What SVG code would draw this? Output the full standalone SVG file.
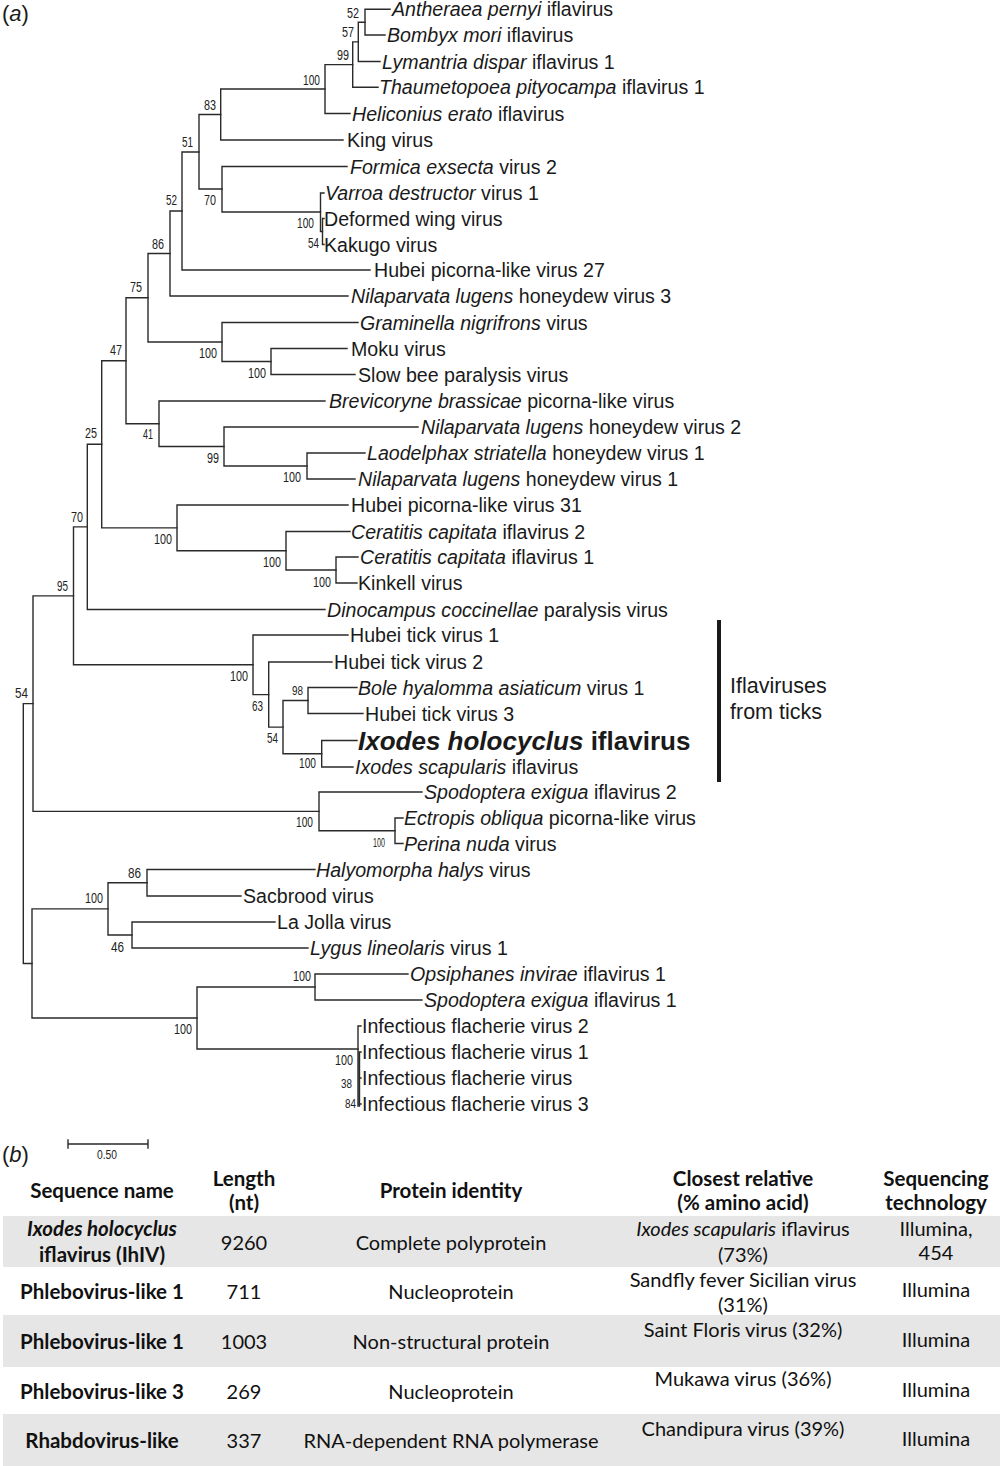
<svg xmlns="http://www.w3.org/2000/svg" width="1000" height="1466" viewBox="0 0 1000 1466">
<style>
.lf{font-family:"Liberation Sans",Arial,sans-serif;font-size:19.6px;fill:#1a1a1a}
.i{font-style:italic}
.bs{font-family:"Liberation Sans",Arial,sans-serif;font-size:14px;fill:#222}
.bss{font-family:"Liberation Sans",Arial,sans-serif;font-size:12px;fill:#222}
.br{fill:none;stroke:#2a2a2a;stroke-width:1.4;stroke-linecap:square}
.tb{font-family:Lato,"Open Sans",sans-serif;font-size:20px;fill:#111;text-anchor:middle}
.th{font-weight:bold;font-size:20.5px}
.band{fill:#e6e6e6}
</style>
<rect width="1000" height="1466" fill="#fff"/>
<text class="lf" x="2" y="21" style="font-size:22px"><tspan>(</tspan><tspan class="i">a</tspan><tspan>)</tspan></text>

<g id="connectors" class="br">
<path d="M365 9.3V35M365 9.3H390M365 35H385"/>
<path d="M358.3 22.2V61.5M358.3 22.2H365M358.3 61.5H380"/>
<path d="M352.7 41.9V87.3M352.7 41.9H358.3M352.7 87.3H378"/>
<path d="M325 64.6V113.5M325 64.6H352.7M325 113.5H350"/>
<path d="M220.7 89V140M220.7 89H325M220.7 140H343"/>
<path d="M322.5 218.5V244.5M322.5 218.5H324M322.5 244.5H324"/>
<path d="M320.5 193V231.5M320.5 193H324M320.5 231.5H322.5"/>
<path d="M222 166.5V212M222 166.5H347M222 212H320.5"/>
<path d="M199 114.5V189M199 114.5H220.7M199 189H222"/>
<path d="M182 152V270M182 152H199M182 270H370"/>
<path d="M170 211V296M170 211H182M170 296H348"/>
<path d="M271 348.5V374.5M271 348.5H347M271 374.5H355"/>
<path d="M222 322.5V361.5M222 322.5H358M222 361.5H271"/>
<path d="M148 253.5V342M148 253.5H170M148 342H222"/>
<path d="M307 453V479M307 453H365M307 479H355"/>
<path d="M224 427V466M224 427H418M224 466H307"/>
<path d="M159 401V446.5M159 401H325M159 446.5H224"/>
<path d="M126 297.8V423.8M126 297.8H148M126 423.8H159"/>
<path d="M336 557V583M336 557H358M336 583H357"/>
<path d="M286 531.5V570M286 531.5H350M286 570H336"/>
<path d="M177 505V550.8M177 505H348M177 550.8H286"/>
<path d="M101.7 360.8V527.9M101.7 360.8H126M101.7 527.9H177"/>
<path d="M87.3 444.3V609.5M87.3 444.3H101.7M87.3 609.5H325"/>
<path d="M321.7 740.5V767M321.7 740.5H357M321.7 767H353"/>
<path d="M308 687.5V713.5M308 687.5H357M308 713.5H363"/>
<path d="M283 700.5V753.8M283 700.5H308M283 753.8H321.7"/>
<path d="M268.7 662V727.1M268.7 662H332M268.7 727.1H283"/>
<path d="M253 635V694.6M253 635H348M253 694.6H268.7"/>
<path d="M73.5 526.9V664.8M73.5 526.9H87.3M73.5 664.8H253"/>
<path d="M395 818V843.5M395 818H403M395 843.5H403"/>
<path d="M319 792V830.8M319 792H422M319 830.8H395"/>
<path d="M33 595.9V811.4M33 595.9H73.5M33 811.4H319"/>
<path d="M147 869.5V896M147 869.5H315M147 896H241"/>
<path d="M132 922V948M132 922H275M132 948H308"/>
<path d="M108 882.8V935M108 882.8H147M108 935H132"/>
<path d="M315 974V1000M315 974H408M315 1000H422"/>
<path d="M358 1026V1106M359.5 1052V1106M358 1026H361M359.5 1052H361M359.5 1078H361M359.5 1104H361"/>
<path d="M197 987V1049M197 987H315M197 1049H358"/>
<path d="M32 908.9V1018M32 908.9H108M32 1018H197"/>
<path d="M23.3 703.6V963.5M23.3 703.6H33M23.3 963.5H32"/>
</g>

<g id="leaves">
<g id="leaf-01"><text class="lf" x="392" y="16.3"><tspan class="i">Antheraea pernyi</tspan> iflavirus</text></g>
<g id="leaf-02"><text class="lf" x="387" y="42"><tspan class="i">Bombyx mori</tspan> iflavirus</text></g>
<g id="leaf-03"><text class="lf" x="382" y="68.5"><tspan class="i">Lymantria dispar</tspan> iflavirus 1</text></g>
<g id="leaf-04"><text class="lf" x="379" y="94.3"><tspan class="i">Thaumetopoea pityocampa</tspan> iflavirus 1</text></g>
<g id="leaf-05"><text class="lf" x="352" y="120.5"><tspan class="i">Heliconius erato</tspan> iflavirus</text></g>
<g id="leaf-06"><text class="lf" x="347" y="147">King virus</text></g>
<g id="leaf-07"><text class="lf" x="350" y="173.5"><tspan class="i">Formica exsecta</tspan> virus 2</text></g>
<g id="leaf-08"><text class="lf" x="325" y="200"><tspan class="i">Varroa destructor</tspan> virus 1</text></g>
<g id="leaf-09"><text class="lf" x="324" y="225.5">Deformed wing virus</text></g>
<g id="leaf-10"><text class="lf" x="324" y="251.5">Kakugo virus</text></g>
<g id="leaf-11"><text class="lf" x="374" y="277">Hubei picorna-like virus 27</text></g>
<g id="leaf-12"><text class="lf" x="351" y="303"><tspan class="i">Nilaparvata lugens</tspan> honeydew virus 3</text></g>
<g id="leaf-13"><text class="lf" x="360" y="329.5"><tspan class="i">Graminella nigrifrons</tspan> virus</text></g>
<g id="leaf-14"><text class="lf" x="351" y="355.5">Moku virus</text></g>
<g id="leaf-15"><text class="lf" x="358" y="381.5">Slow bee paralysis virus</text></g>
<g id="leaf-16"><text class="lf" x="329" y="408"><tspan class="i">Brevicoryne brassicae</tspan> picorna-like virus</text></g>
<g id="leaf-17"><text class="lf" x="421" y="434"><tspan class="i">Nilaparvata lugens</tspan> honeydew virus 2</text></g>
<g id="leaf-18"><text class="lf" x="367" y="460"><tspan class="i">Laodelphax striatella</tspan> honeydew virus 1</text></g>
<g id="leaf-19"><text class="lf" x="358" y="486"><tspan class="i">Nilaparvata lugens</tspan> honeydew virus 1</text></g>
<g id="leaf-20"><text class="lf" x="351" y="512">Hubei picorna-like virus 31</text></g>
<g id="leaf-21"><text class="lf" x="351" y="538.5"><tspan class="i">Ceratitis capitata</tspan> iflavirus 2</text></g>
<g id="leaf-22"><text class="lf" x="360" y="564"><tspan class="i">Ceratitis capitata</tspan> iflavirus 1</text></g>
<g id="leaf-23"><text class="lf" x="358" y="590">Kinkell virus</text></g>
<g id="leaf-24"><text class="lf" x="327" y="616.5"><tspan class="i">Dinocampus coccinellae</tspan> paralysis virus</text></g>
<g id="leaf-25"><text class="lf" x="350" y="642">Hubei tick virus 1</text></g>
<g id="leaf-26"><text class="lf" x="334" y="669">Hubei tick virus 2</text></g>
<g id="leaf-27"><text class="lf" x="358" y="694.5"><tspan class="i">Bole hyalomma asiaticum</tspan> virus 1</text></g>
<g id="leaf-28"><text class="lf" x="365" y="720.5">Hubei tick virus 3</text></g>
<g id="leaf-29"><text class="lf" x="358" y="749.5" style="font-size:26px;font-weight:bold"><tspan class="i">Ixodes holocyclus</tspan> iflavirus</text></g>
<g id="leaf-30"><text class="lf" x="355" y="774"><tspan class="i">Ixodes scapularis</tspan> iflavirus</text></g>
<g id="leaf-31"><text class="lf" x="424" y="799"><tspan class="i">Spodoptera exigua</tspan> iflavirus 2</text></g>
<g id="leaf-32"><text class="lf" x="404" y="825"><tspan class="i">Ectropis obliqua</tspan> picorna-like virus</text></g>
<g id="leaf-33"><text class="lf" x="404" y="850.5"><tspan class="i">Perina nuda</tspan> virus</text></g>
<g id="leaf-34"><text class="lf" x="316" y="876.5"><tspan class="i">Halyomorpha halys</tspan> virus</text></g>
<g id="leaf-35"><text class="lf" x="243" y="903">Sacbrood virus</text></g>
<g id="leaf-36"><text class="lf" x="277" y="929">La Jolla virus</text></g>
<g id="leaf-37"><text class="lf" x="310" y="955"><tspan class="i">Lygus lineolaris</tspan> virus 1</text></g>
<g id="leaf-38"><text class="lf" x="410" y="981"><tspan class="i">Opsiphanes invirae</tspan> iflavirus 1</text></g>
<g id="leaf-39"><text class="lf" x="424" y="1007"><tspan class="i">Spodoptera exigua</tspan> iflavirus 1</text></g>
<g id="leaf-40"><text class="lf" x="362" y="1033">Infectious flacherie virus 2</text></g>
<g id="leaf-41"><text class="lf" x="362" y="1059">Infectious flacherie virus 1</text></g>
<g id="leaf-42"><text class="lf" x="362" y="1085">Infectious flacherie virus</text></g>
<g id="leaf-43"><text class="lf" x="362" y="1110.5">Infectious flacherie virus 3</text></g>
</g>

<g id="bootstrap">
<g id="bs-01"><text class="bs" x="347" y="18" textLength="12" lengthAdjust="spacingAndGlyphs">52</text></g>
<g id="bs-02"><text class="bs" x="342" y="37" textLength="12" lengthAdjust="spacingAndGlyphs">57</text></g>
<g id="bs-03"><text class="bs" x="337" y="60" textLength="12" lengthAdjust="spacingAndGlyphs">99</text></g>
<g id="bs-04"><text class="bs" x="303" y="85" textLength="17" lengthAdjust="spacingAndGlyphs">100</text></g>
<g id="bs-05"><text class="bs" x="204" y="110" textLength="12" lengthAdjust="spacingAndGlyphs">83</text></g>
<g id="bs-06"><text class="bs" x="182" y="147" textLength="11" lengthAdjust="spacingAndGlyphs">51</text></g>
<g id="bs-07"><text class="bs" x="204" y="205" textLength="12" lengthAdjust="spacingAndGlyphs">70</text></g>
<g id="bs-08"><text class="bs" x="297" y="228" textLength="17" lengthAdjust="spacingAndGlyphs">100</text></g>
<g id="bs-09"><text class="bs" x="308" y="248" textLength="11" lengthAdjust="spacingAndGlyphs">54</text></g>
<g id="bs-10"><text class="bs" x="166" y="205" textLength="11" lengthAdjust="spacingAndGlyphs">52</text></g>
<g id="bs-11"><text class="bs" x="152" y="249" textLength="12" lengthAdjust="spacingAndGlyphs">86</text></g>
<g id="bs-12"><text class="bs" x="130" y="292" textLength="12" lengthAdjust="spacingAndGlyphs">75</text></g>
<g id="bs-13"><text class="bs" x="199" y="358" textLength="18" lengthAdjust="spacingAndGlyphs">100</text></g>
<g id="bs-14"><text class="bs" x="248" y="378" textLength="18" lengthAdjust="spacingAndGlyphs">100</text></g>
<g id="bs-15"><text class="bs" x="110" y="355" textLength="12" lengthAdjust="spacingAndGlyphs">47</text></g>
<g id="bs-16"><text class="bs" x="85" y="438" textLength="12" lengthAdjust="spacingAndGlyphs">25</text></g>
<g id="bs-17"><text class="bs" x="143" y="439" textLength="10" lengthAdjust="spacingAndGlyphs">41</text></g>
<g id="bs-18"><text class="bs" x="207" y="463" textLength="12" lengthAdjust="spacingAndGlyphs">99</text></g>
<g id="bs-19"><text class="bs" x="283" y="482" textLength="18" lengthAdjust="spacingAndGlyphs">100</text></g>
<g id="bs-20"><text class="bs" x="154" y="544" textLength="18" lengthAdjust="spacingAndGlyphs">100</text></g>
<g id="bs-21"><text class="bs" x="263" y="567" textLength="18" lengthAdjust="spacingAndGlyphs">100</text></g>
<g id="bs-22"><text class="bs" x="313" y="587" textLength="18" lengthAdjust="spacingAndGlyphs">100</text></g>
<g id="bs-23"><text class="bs" x="71" y="521.5" textLength="12" lengthAdjust="spacingAndGlyphs">70</text></g>
<g id="bs-24"><text class="bs" x="57" y="591" textLength="11" lengthAdjust="spacingAndGlyphs">95</text></g>
<g id="bs-25"><text class="bs" x="230" y="681" textLength="18" lengthAdjust="spacingAndGlyphs">100</text></g>
<g id="bs-26"><text class="bs" x="252" y="711" textLength="11" lengthAdjust="spacingAndGlyphs">63</text></g>
<g id="bs-27"><text class="bss" x="292" y="694.5" textLength="11" lengthAdjust="spacingAndGlyphs">98</text></g>
<g id="bs-28"><text class="bs" x="267" y="743" textLength="11" lengthAdjust="spacingAndGlyphs">54</text></g>
<g id="bs-29"><text class="bs" x="299" y="768" textLength="17" lengthAdjust="spacingAndGlyphs">100</text></g>
<g id="bs-30"><text class="bs" x="15" y="698" textLength="13" lengthAdjust="spacingAndGlyphs">54</text></g>
<g id="bs-31"><text class="bs" x="296" y="827" textLength="17" lengthAdjust="spacingAndGlyphs">100</text></g>
<g id="bs-32"><text class="bss" x="373" y="846.5" textLength="12" lengthAdjust="spacingAndGlyphs">100</text></g>
<g id="bs-33"><text class="bs" x="128" y="878" textLength="13" lengthAdjust="spacingAndGlyphs">86</text></g>
<g id="bs-34"><text class="bs" x="85" y="903" textLength="18" lengthAdjust="spacingAndGlyphs">100</text></g>
<g id="bs-35"><text class="bs" x="111" y="952" textLength="13" lengthAdjust="spacingAndGlyphs">46</text></g>
<g id="bs-36"><text class="bs" x="293" y="981" textLength="18" lengthAdjust="spacingAndGlyphs">100</text></g>
<g id="bs-37"><text class="bs" x="174" y="1034" textLength="18" lengthAdjust="spacingAndGlyphs">100</text></g>
<g id="bs-38"><text class="bs" x="335" y="1065" textLength="18" lengthAdjust="spacingAndGlyphs">100</text></g>
<g id="bs-39"><text class="bss" x="341" y="1087.5" textLength="11" lengthAdjust="spacingAndGlyphs">38</text></g>
<g id="bs-40"><text class="bss" x="345" y="1107.5" textLength="11" lengthAdjust="spacingAndGlyphs">84</text></g>
</g>

<g id="tick-clade">
<rect x="717" y="620" width="4" height="162" fill="#1a1a1a"/>
<text class="lf" x="730" y="692.5" style="font-size:21.5px">Iflaviruses</text>
<text class="lf" x="730" y="719" style="font-size:21.5px">from ticks</text>
</g>

<g id="scale-bar">
<path class="br" d="M68 1144H148M68 1140V1148M148 1140V1148"/>
<text class="bs" x="97" y="1159" textLength="20" lengthAdjust="spacingAndGlyphs" style="font-size:12px">0.50</text>
</g>

<text class="lf" x="2" y="1162" style="font-size:22px"><tspan>(</tspan><tspan class="i">b</tspan><tspan>)</tspan></text>

<g id="table">
<rect class="band" x="3" y="1216" width="997" height="51"/>
<rect class="band" x="3" y="1315" width="997" height="52"/>
<rect class="band" x="3" y="1414" width="997" height="52"/>
<g class="th">
<text class="tb th" x="102" y="1198">Sequence name</text>
<text class="tb th" x="244" y="1186">Length</text>
<text class="tb th" x="244" y="1210">(nt)</text>
<text class="tb th" x="451" y="1198">Protein identity</text>
<text class="tb th" x="743" y="1186">Closest relative</text>
<text class="tb th" x="743" y="1210">(% amino acid)</text>
<text class="tb th" x="936" y="1186">Sequencing</text>
<text class="tb th" x="936" y="1210">technology</text>
</g>
<text class="tb th" x="102" y="1236" font-style="italic">Ixodes holocyclus</text>
<text class="tb th" x="102" y="1262">iflavirus (IhIV)</text>
<text class="tb" x="244" y="1250">9260</text>
<text class="tb" x="451" y="1250">Complete polyprotein</text>
<text class="tb" x="743" y="1236"><tspan font-style="italic">Ixodes scapularis</tspan> iflavirus</text>
<text class="tb" x="743" y="1262">(73%)</text>
<text class="tb" x="936" y="1236">Illumina,</text>
<text class="tb" x="936" y="1260">454</text>

<text class="tb th" x="102" y="1299">Phlebovirus-like 1</text>
<text class="tb" x="244" y="1299">711</text>
<text class="tb" x="451" y="1299">Nucleoprotein</text>
<text class="tb" x="743" y="1287">Sandfly fever Sicilian virus</text>
<text class="tb" x="743" y="1312">(31%)</text>
<text class="tb" x="936" y="1297">Illumina</text>

<text class="tb th" x="102" y="1349">Phlebovirus-like 1</text>
<text class="tb" x="244" y="1349">1003</text>
<text class="tb" x="451" y="1349">Non-structural protein</text>
<text class="tb" x="743" y="1337">Saint Floris virus (32%)</text>
<text class="tb" x="936" y="1347">Illumina</text>

<text class="tb th" x="102" y="1399">Phlebovirus-like 3</text>
<text class="tb" x="244" y="1399">269</text>
<text class="tb" x="451" y="1399">Nucleoprotein</text>
<text class="tb" x="743" y="1386">Mukawa virus (36%)</text>
<text class="tb" x="936" y="1397">Illumina</text>

<text class="tb th" x="102" y="1448">Rhabdovirus-like</text>
<text class="tb" x="244" y="1448">337</text>
<text class="tb" x="451" y="1448">RNA-dependent RNA polymerase</text>
<text class="tb" x="743" y="1436">Chandipura virus (39%)</text>
<text class="tb" x="936" y="1446">Illumina</text>
</g>
</svg>
